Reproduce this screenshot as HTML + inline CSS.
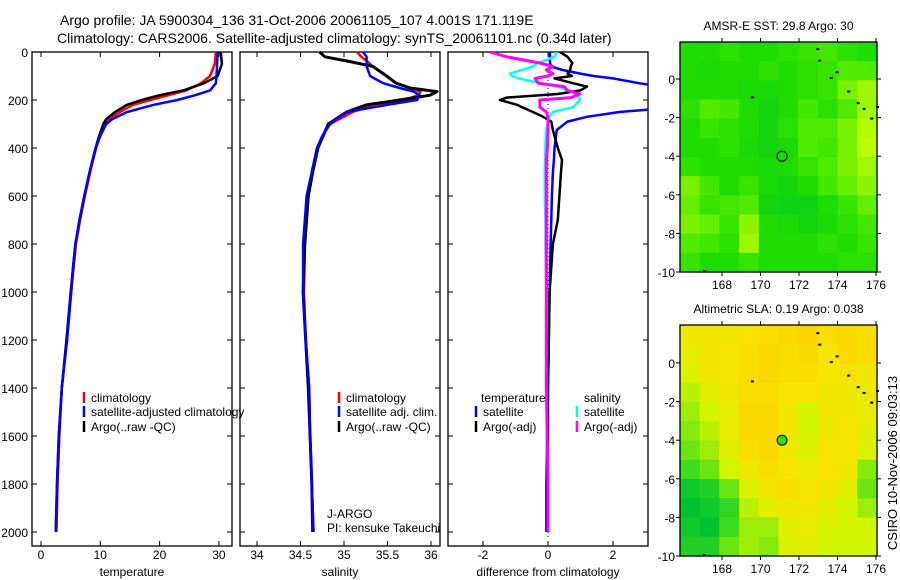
<!DOCTYPE html>
<html><head><meta charset="utf-8"><style>
body{margin:0;background:#fff;}
svg{display:block;font-family:"Liberation Sans",sans-serif;}
</style></head><body>
<svg id="fig" width="900" height="580" viewBox="0 0 900 580">
<rect x="0" y="0" width="900" height="580" fill="#fff"/>
<text x="60" y="25" font-size="14">Argo profile: JA 5900304_136 31-Oct-2006 20061105_107 4.001S 171.119E</text>
<text x="57" y="43" font-size="14">Climatology: CARS2006. Satellite-adjusted climatology: synTS_20061101.nc (0.34d later)</text>
<g id="g1"></g>
<g id="g2"></g>
<g id="g3"></g>
<g id="m1"></g>
<g id="m2"></g>
<text x="0" y="0" font-size="13" transform="translate(897,463) rotate(-90)" text-anchor="middle">CSIRO 10-Nov-2006 09:03:13</text>
</svg>
<script>
// ---- profile data ----
const tDepth = [0,50,100,130,160,180,200,220,250,280,300,350,400,500,600,700,800,900,1000,1200,1400,1600,1800,2000];
const tClim  = [29.5,29.3,28.5,27,24.5,21.5,18.4,15.5,13.3,11.5,10.8,9.9,9.3,8.3,7.4,6.6,5.9,5.5,5.1,4.3,3.5,3.1,2.8,2.6];
const tArgo  = [30.3,30.5,29.8,27.5,24,20,17,14.5,12.5,11,10.5,9.8,9.2,8.2,7.3,6.5,5.8,5.4,5.0,4.3,3.5,3.0,2.7,2.5];
const tSat   = [29.8,29.7,29.6,29.5,28.5,26,23,19,14.5,12,11,10,9.2,8.2,7.3,6.5,5.8,5.4,5.1,4.4,3.5,3.0,2.7,2.5];
const sDepth = [0,20,40,60,100,130,150,165,180,200,220,250,300,350,400,500,600,800,1000,1200,1400,1600,1800,2000];
const sClim  = [35.15,35.2,35.27,35.33,35.49,35.6,35.76,35.88,35.85,35.7,35.33,35.1,34.84,34.75,34.69,34.63,34.59,34.55,34.54,34.56,34.6,34.61,34.63,34.65];
const sArgo  = [34.72,34.78,35.07,35.33,35.49,35.6,35.76,36.07,35.99,35.64,35.26,35.03,34.82,34.76,34.7,34.64,34.59,34.55,34.53,34.56,34.59,34.61,34.63,34.64];
const sSat   = [35.22,35.26,35.26,35.26,35.3,35.45,35.64,35.8,35.87,35.84,35.5,35.03,34.84,34.75,34.69,34.63,34.57,34.53,34.53,34.56,34.6,34.61,34.63,34.65];
const dDepth = [0,20,46,60,75,90,100,110,130,144,160,175,190,200,220,230,250,270,290,325,400,450,500,600,700,800,1000,1400,1800,2000];
const dTsat  = [0.06,0.06,0.06,0.1,0.45,1.0,1.4,2.0,2.8,3.5,4,4,4,4,4,4,2.2,1.2,0.6,0.27,0.2,0.18,0.15,0.12,0.1,0.08,0.05,0.0,-0.05,-0.05];
const dTargo = [0.37,0.6,0.75,0.7,0.68,0.6,0.73,0.2,0.77,1.2,1.0,0.3,-1.27,-1.48,-0.95,-0.8,-0.46,-0.15,0.1,0.15,0.3,0.43,0.4,0.35,0.3,0.15,0.05,0.0,0.0,0.0];
const dSsat  = [0.27,0.2,-0.3,-0.46,-0.8,-1.17,-1.1,-0.9,-0.25,0.3,0.6,0.9,0.95,0.98,0.85,0.77,0.15,0.05,0.0,-0.05,-0.09,-0.09,-0.1,-0.1,-0.08,-0.08,-0.05,-0.05,0.0,0.0];
const dSargo = [-1.78,-1.27,-0.25,0.15,-0.05,0.15,0.0,-0.4,-0.3,0.5,0.6,0.98,0.7,-0.25,-0.25,-0.25,-0.05,0.0,0.0,0.0,-0.02,-0.05,-0.05,-0.05,-0.05,-0.05,-0.05,-0.05,0.0,0.0];
const depthTicks = [0,200,400,600,800,1000,1200,1400,1600,1800,2000];
const tTicks = [0,10,20,30];
const sTicks = [34,34.5,35,35.5,36];
const dTicks = [-2,0,2];
// ---- map data (0..1 colour index), rows north->south ----
const sstGrid = [
[.3,.3,.35,.3,.3,.35,.4,.45,.35,.3],
[.3,.25,.3,.3,.35,.3,.35,.4,.5,.5],
[.3,.3,.3,.25,.25,.3,.35,.4,.6,.7],
[.35,.5,.45,.3,.2,.3,.45,.35,.5,.7],
[.3,.4,.35,.3,.2,.35,.5,.5,.6,.75],
[.3,.3,.35,.25,.2,.25,.5,.45,.6,.8],
[.35,.3,.3,.3,.25,.3,.4,.5,.6,.7],
[.6,.45,.3,.4,.25,.2,.3,.45,.55,.65],
[.55,.4,.45,.5,.2,.15,.15,.3,.4,.55],
[.6,.55,.4,.65,.3,.25,.2,.25,.35,.45],
[.5,.45,.35,.7,.3,.3,.3,.35,.3,.4],
[.4,.3,.3,.4,.3,.3,.3,.3,.35,.35]];
const slaGrid = [
[.7,.7,.7,.75,.8,.85,.9,.8,.85,.8],
[.65,.7,.75,.8,.85,.8,.85,.75,.85,.8],
[.55,.7,.75,.8,.85,.8,.8,.75,.75,.7],
[.45,.6,.7,.8,.8,.75,.75,.7,.7,.65],
[.4,.5,.65,.85,.85,.7,.5,.7,.7,.65],
[.35,.45,.65,.85,.85,.7,.5,.7,.75,.6],
[.3,.4,.6,.8,.85,.7,.55,.75,.75,.55],
[.2,.3,.5,.7,.8,.75,.65,.75,.7,.35],
[.05,.1,.3,.55,.7,.8,.75,.7,.6,.3],
[0,.05,.15,.45,.6,.7,.7,.6,.5,.4],
[.05,0,.2,.4,.4,.6,.65,.55,.5,.5],
[.1,.1,.3,.4,.35,.55,.6,.5,.5,.5]];
const lonTicks = [168,170,172,174,176];
const latTicks = [0,-2,-4,-6,-8,-10];
const argoLon = 171.119, argoLat = -4.001;

const NS='http://www.w3.org/2000/svg';
function mk(parent,tag,attrs){const e=document.createElementNS(NS,tag);for(const k in attrs)e.setAttribute(k,attrs[k]);parent.appendChild(e);return e;}
const Y0=52, Y1=532, TOP=52, BOT=546;
const yD = d => Y0 + d*(Y1-Y0)/2000;

function panel(g,x0,x1,xs,ticks,label,ylabels){
  const fr=mk(g,'rect',{x:x0,y:TOP,width:x1-x0,height:BOT-TOP,fill:'none',stroke:'#000','stroke-width':1.3});
  
  
  depthTicks.forEach(d=>{
    mk(g,'line',{x1:x0,x2:x0+5,y1:yD(d),y2:yD(d),stroke:'#000'});
    mk(g,'line',{x1:x1,x2:x1-5,y1:yD(d),y2:yD(d),stroke:'#000'});
    if(ylabels){const t=mk(g,'text',{x:x0-4,y:yD(d)+5,'font-size':12,'text-anchor':'end'});t.textContent=d;
      
      }
  });
  ticks.forEach(v=>{
    const x=xs(v);
    mk(g,'line',{x1:x,x2:x,y1:TOP,y2:TOP+5,stroke:'#000'});
    mk(g,'line',{x1:x,x2:x,y1:BOT,y2:BOT-5,stroke:'#000'});
    const t=mk(g,'text',{x:x,y:559,'font-size':12,'text-anchor':'middle'});t.textContent=v;
    
    
  });
  const l=mk(g,'text',{x:(x0+x1)/2,y:576,'font-size':12,'text-anchor':'middle'});l.textContent=label;
  
  
}
function line(g,xs,depths,vals,col,w,name,clipId){
  const pts=depths.map((d,i)=>xs(vals[i]).toFixed(1)+','+yD(d).toFixed(1)).join(' ');
  const p=mk(g,'polyline',{points:pts,fill:'none',stroke:col,'stroke-width':w,'stroke-linejoin':'round'});
  if(clipId)p.setAttribute('clip-path','url(#'+clipId+')');
  
  
}
function legend(g,x,y,col,txt){
  mk(g,'line',{x1:x,x2:x,y1:y-10,y2:y+1,stroke:col,'stroke-width':2.5});
  const t=mk(g,'text',{x:x+7,y:y,'font-size':12});t.textContent=txt;
  
  
}
function txt(g,x,y,s,name){const t=mk(g,'text',{x:x,y:y,'font-size':12});t.textContent=s;
  
  }

const svg=document.getElementById('fig');
const defs=mk(svg,'defs',{});
const cp=mk(defs,'clipPath',{id:'c3'});mk(cp,'rect',{x:448,y:52,width:200,height:494});

// Panel 1
const g1=document.getElementById('g1');
const xT=v=>41+v*5.93;
panel(g1,32,232,xT,tTicks,'temperature',true);
line(g1,xT,tDepth,tClim,'#f00',2.5,'temp-climatology-line');
line(g1,xT,tDepth,tArgo,'#000',2.5,'temp-argo-line');
line(g1,xT,tDepth,tSat,'#00f',2.5,'temp-satellite-line');
legend(g1,84,402,'#f00','climatology');
legend(g1,84,416,'#00f','satellite-adjusted climatology');
legend(g1,84,431,'#000','Argo(..raw -QC)');

// Panel 2
const g2=document.getElementById('g2');
const xS=v=>257+(v-34)*87;
panel(g2,240,440,xS,sTicks,'salinity',false);
line(g2,xS,sDepth,sClim,'#f00',2.5,'sal-climatology-line');
line(g2,xS,sDepth,sArgo,'#000',3,'sal-argo-line');
line(g2,xS,sDepth,sSat,'#00f',2.5,'sal-satellite-line');
legend(g2,339,402,'#f00','climatology');
legend(g2,339,416,'#00f','satellite adj. clim.');
legend(g2,339,431,'#000','Argo(..raw -QC)');
txt(g2,327,518,'J-ARGO','float-program-label');
txt(g2,327,532,'PI: kensuke Takeuchi','pi-label');

// Panel 3
const g3=document.getElementById('g3');
const xDf=v=>548+v*32.5;
panel(g3,448,648,xDf,dTicks,'difference from climatology',false);
mk(g3,'line',{x1:xDf(0),x2:xDf(0),y1:Y0,y2:Y1+6,stroke:'#000','stroke-dasharray':'1,3'});
line(g3,xDf,dDepth,dTsat,'#00f',2.5,'diff-temp-satellite-line','c3');
line(g3,xDf,dDepth,dTargo,'#000',2.5,'diff-temp-argo-line','c3');
line(g3,xDf,dDepth,dSsat,'#0ff',2.5,'diff-sal-satellite-line','c3');
line(g3,xDf,dDepth,dSargo,'#f0f',3,'diff-sal-argo-line','c3');
txt(g3,481,402,'temperature','legend-header-temperature');
txt(g3,584,402,'salinity','legend-header-salinity');
legend(g3,476,416,'#00f','satellite');
legend(g3,476,431,'#000','Argo(-adj)');
legend(g3,577,416,'#0ff','satellite');
legend(g3,577,431,'#f0f','Argo(-adj)');

// Maps
function lerpStops(stops,v){
  v=Math.max(0,Math.min(1,v));
  for(let i=0;i<stops.length-1;i++){const [a,ca]=stops[i],[b,cb]=stops[i+1];
    if(v<=b){const f=(v-a)/(b-a);return 'rgb('+ca.map((c,k)=>Math.round(c+(cb[k]-c)*f)).join(',')+')';}}
  return 'rgb('+stops[stops.length-1][1].join(',')+')';
}
const sstStops=[[0,[0,200,40]],[0.3,[30,220,0]],[0.5,[80,235,0]],[0.75,[180,250,0]],[1,[225,255,0]]];
const slaStops=[[0,[0,195,50]],[0.25,[80,225,20]],[0.5,[210,245,0]],[0.75,[248,228,0]],[1,[255,200,0]]];
function map(g,top,latTop,latZeroY,grid,stops,title,dotFill){
  const x0=680,x1=877,bot=latZeroY+193;
  const lonX=l=>722+(l-168)*19.25, latY=l=>latZeroY-l*19.3;
  const rows=grid.length, cols=grid[0].length;
  const cw=(x1-x0)/cols, ch=(bot-top)/rows;
  grid.forEach((row,r)=>row.forEach((v,c)=>{
    const e=mk(g,'rect',{x:(x0+c*cw).toFixed(2),y:(top+r*ch).toFixed(2),width:(cw+0.6).toFixed(2),height:(ch+0.6).toFixed(2),fill:lerpStops(stops,v)});
    
    
  }));
  [[172.9,1.6],[173,1],[173.6,0.1],[173.9,0.4],[174.5,-0.6],[175,-1.2],[175.3,-1.5],[175.7,-2],[176,-1.4],[169.5,-0.9],[167,-9.9]].forEach(p=>{
    mk(g,'rect',{x:lonX(p[0]),y:latY(p[1]),width:3,height:2,fill:'#000'});
  });
  const fr=mk(g,'rect',{x:x0,y:top,width:x1-x0,height:bot-top,fill:'none',stroke:'#000','stroke-width':1.3});
  
  
  lonTicks.forEach(l=>{const x=lonX(l);
    mk(g,'line',{x1:x,x2:x,y1:top,y2:top-4,stroke:'#000'});
    mk(g,'line',{x1:x,x2:x,y1:bot,y2:bot+4,stroke:'#000'});
    const t=mk(g,'text',{x:x,y:bot+17,'font-size':12,'text-anchor':'middle'});t.textContent=l;
    
    });
  latTicks.forEach(l=>{const y=latY(l);
    mk(g,'line',{x1:x0,x2:x0-4,y1:y,y2:y,stroke:'#000'});
    mk(g,'line',{x1:x1,x2:x1+4,y1:y,y2:y,stroke:'#000'});
    const t=mk(g,'text',{x:x0-5,y:y+5,'font-size':12,'text-anchor':'end'});t.textContent=l;
    
    });
  const c=mk(g,'circle',{cx:lonX(argoLon),cy:latY(argoLat),r:5,fill:dotFill,stroke:'#000','stroke-width':1});
  
  
  const t=mk(g,'text',{x:(x0+x1)/2,y:top-12,'font-size':12,'text-anchor':'middle'});t.textContent=title;
  
  
}
map(document.getElementById('m1'),42,1.9,79,sstGrid,sstStops,'AMSR-E SST: 29.8 Argo: 30','none');
map(document.getElementById('m2'),325,3.2,363,slaGrid,slaStops,'Altimetric SLA: 0.19 Argo: 0.038','#30dd10');
</script>
</body></html>
